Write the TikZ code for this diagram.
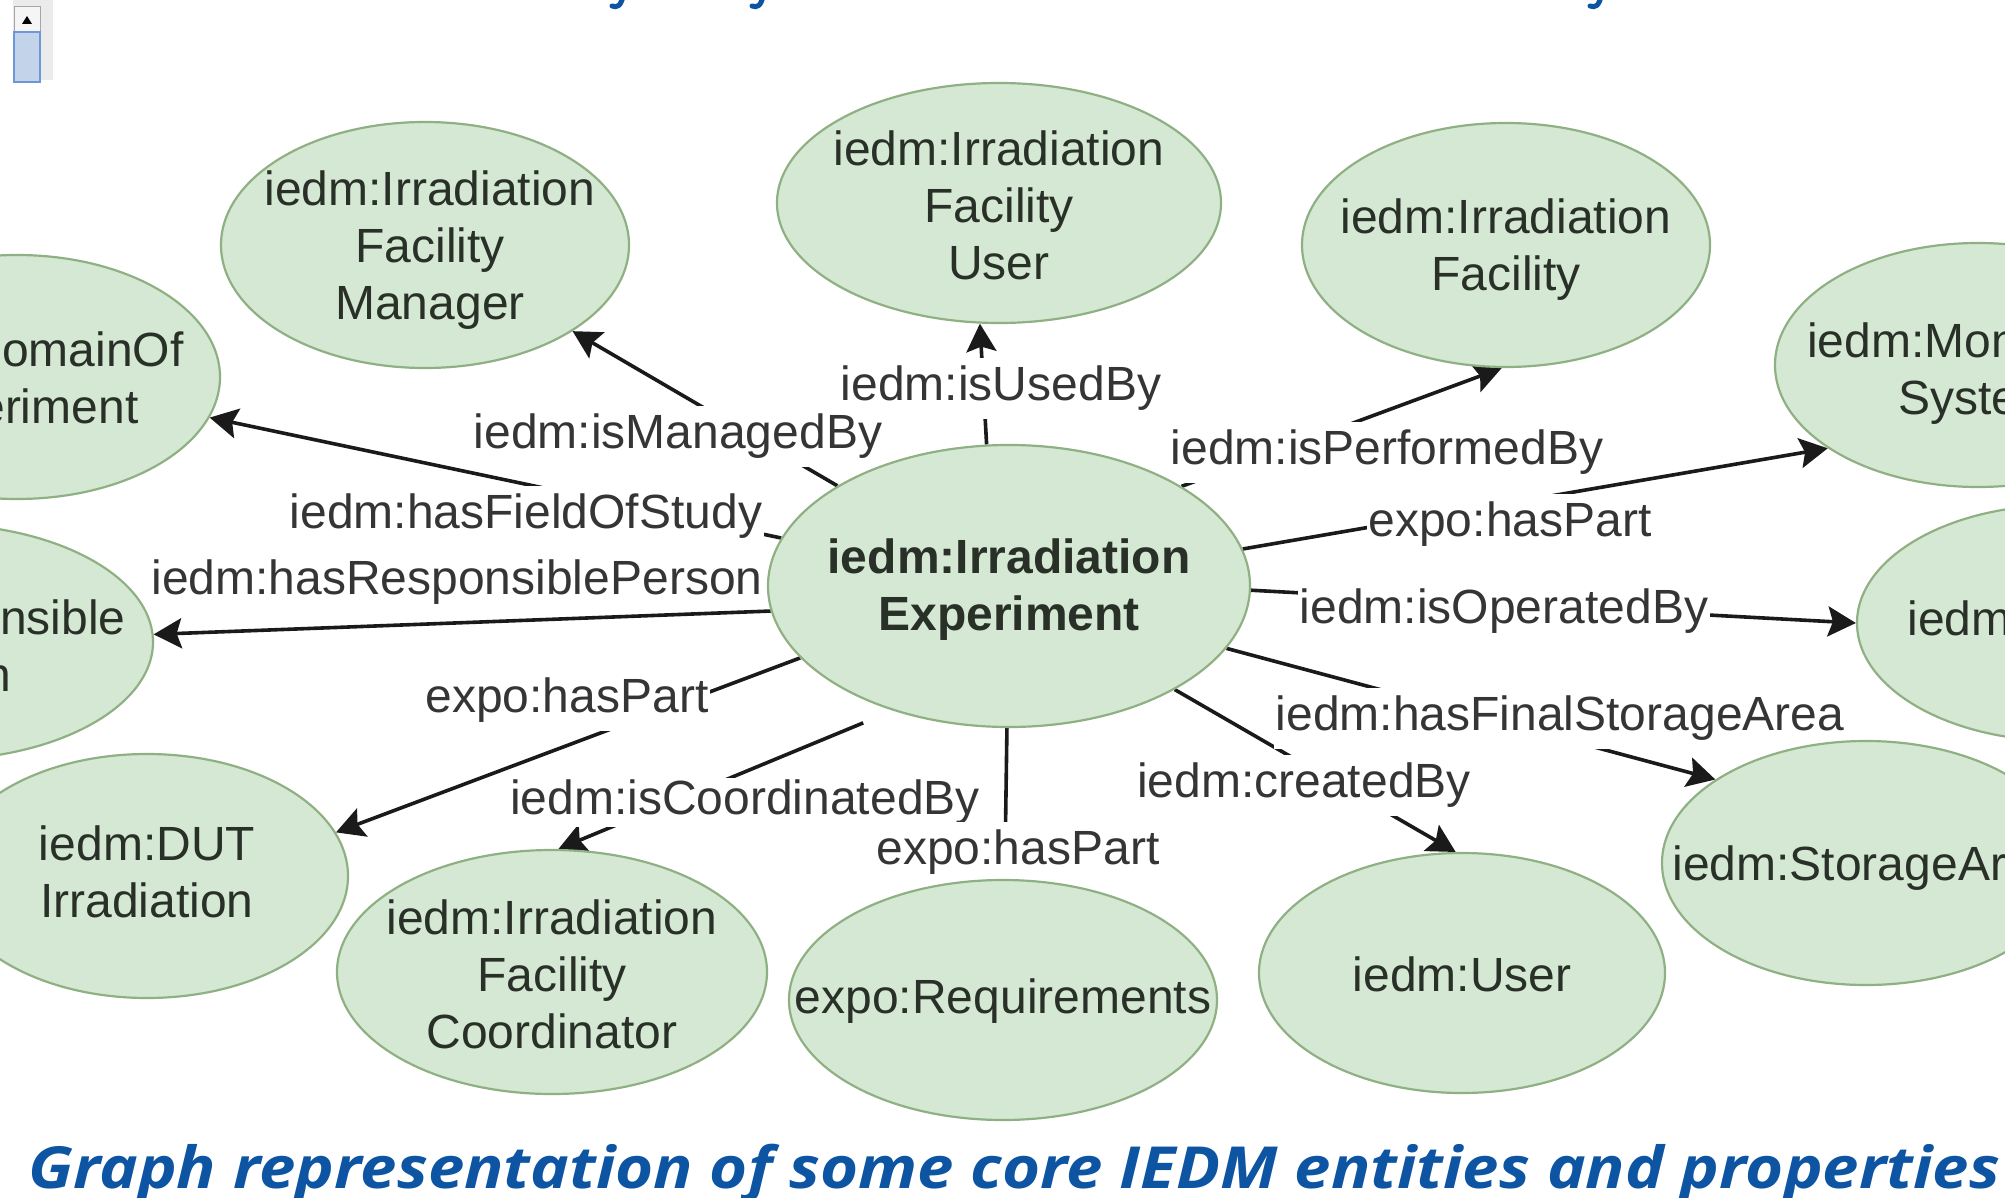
\documentclass[tikz,border=0pt]{standalone}
\usepackage{fontspec}
\setmainfont{Liberation Sans}
\newfontfamily\capfont{Open Sans}
\usetikzlibrary{arrows.meta,shapes.geometric}
\definecolor{nodefill}{HTML}{D5E8D4}
\definecolor{nodeedge}{HTML}{8FB083}
\definecolor{edgecol}{HTML}{1A1A1A}
\definecolor{lblcol}{HTML}{353535}
\definecolor{nodetxt}{HTML}{283028}
\definecolor{capblue}{HTML}{0D55A3}
\definecolor{thumbfill}{HTML}{C3D4EA}
\definecolor{thumbedge}{HTML}{6E97D8}
\pgfdeclarelayer{bglayer}
\pgfdeclarelayer{edgelayer}
\pgfdeclarelayer{lbllayer}
\pgfsetlayers{bglayer,edgelayer,lbllayer,main}
\begin{document}
\begin{tikzpicture}[x=1pt,y=-1pt,
  ent/.style={ellipse, draw=nodeedge, line width=2.2pt, fill=nodefill, inner sep=0pt},
  nt/.style={text=nodetxt, align=center, inner sep=0pt, font=\fontsize{48}{57}\selectfont},
  lbl/.style={fill=white, text=lblcol, inner xsep=2pt, inner ysep=8pt,
              text height=35pt, text depth=10pt, font=\fontsize{48}{57}\selectfont},
  conn/.style={draw=edgecol, line width=3.6pt},
  arr/.style={conn, -{Stealth[length=28pt,width=30pt,inset=5pt]}}
]
\useasboundingbox (0,0) rectangle (2005,1198);

\begin{pgfonlayer}{bglayer}
\fill[white] (0,0) rectangle (2005,1198);
% scrollbar fragment
\fill[black!8] (13,0) rectangle (53,80);
\draw[fill=black!4, draw=black!35, line width=1pt] (14,7) rectangle (40,32);
\fill[black] (27,16) -- (32,24) -- (22,24) -- cycle;
\draw[fill=thumbfill, draw=thumbedge, line width=1.2pt] (14,32) rectangle (40,82);
% descenders of the cut-off title
\foreach \xx in {614,754,1592}{
  \draw[capblue, line width=5pt, line cap=round] (\xx+9,-4) .. controls (\xx+7,6) and (\xx+3,8) .. (\xx-2,6);
}
\end{pgfonlayer}

% entities
\node[ent, minimum width=482pt, minimum height=282pt] (C) at (1009,586) {};
\node[ent, minimum width=408pt, minimum height=246pt] (M) at (425,245) {};
\node[ent, minimum width=444pt, minimum height=240pt] (U) at (999,203) {};
\node[ent, minimum width=408pt, minimum height=244pt] (F) at (1506,245) {};
\node[ent, minimum width=406pt, minimum height=244pt] (N) at (1978,365) {};
\node[ent, minimum width=408pt, minimum height=236pt] (O) at (2061,623) {};
\node[ent, minimum width=408pt, minimum height=244pt] (S) at (1866,863) {};
\node[ent, minimum width=406pt, minimum height=240pt] (Us) at (1462,973) {};
\node[ent, minimum width=428pt, minimum height=240pt] (Q) at (1003,1000) {};
\node[ent, minimum width=430pt, minimum height=244pt] (K) at (552,972) {};
\node[ent, minimum width=402pt, minimum height=244pt] (T) at (147,876) {};
\node[ent, minimum width=436pt, minimum height=236pt] (R) at (-65,642) {};
\node[ent, minimum width=406pt, minimum height=244pt] (D) at (17,377) {};

% connectors
\begin{pgfonlayer}{edgelayer}
\draw[arr] (C.99) -- (U.261);
\draw[arr] (C) -- (M);
\draw[arr] (C) -- (D);
\draw[arr] (C.186) -- (R.2);
\draw[arr] (C.199) -- (T.13);
\draw[arr, shorten <=32pt] (C.227) -- (K.87);
\draw[conn] (C) -- (Q);
\draw[arr] (C.328) -- (Us.93);
\draw[arr] (C.344) -- (S.151);
\draw[arr] (C.359) -- (O.180);
\draw[arr] (C.9) -- (N.209);
\draw[arr] (C.30) -- (F.268);
\end{pgfonlayer}

% connector labels
\begin{pgfonlayer}{lbllayer}
\node[lbl] (l1) at (1001,388) {iedm:isUsedBy};
\node[lbl] (l2) at (678,436) {iedm:isManagedBy};
\node[lbl] (l3) at (526,516) {iedm:hasFieldOfStudy};
\node[lbl, fill=none] (l4) at (457,582) {iedm:hasResponsiblePerson};
\node[lbl] (l5) at (567,700) {expo:hasPart};
\node[lbl, inner ysep=2pt] (l6) at (745,802) {iedm:isCoordinatedBy};
\node[lbl] (l7) at (1018,852) {expo:hasPart};
\node[lbl] (l8) at (1304,785) {iedm:createdBy};
\node[lbl] (l9) at (1560,718) {iedm:hasFinalStorageArea};
\node[lbl] (l10) at (1504,611) {iedm:isOperatedBy};
\node[lbl] (l11) at (1510,524) {expo:hasPart};
\node[lbl] (l12) at (1387,452) {iedm:isPerformedBy};
\end{pgfonlayer}

% entity texts
\node[nt, font=\bfseries\fontsize{48}{57}\selectfont] (Ct) at (1009,590) {iedm:Irradiation\\Experiment};
\node[nt] (Mt) at (430,250) {iedm:Irradiation\\Facility\\Manager};
\node[nt] (Ut) at (999,205) {iedm:Irradiation\\Facility\\User};
\node[nt] (Ft) at (1506,250) {iedm:Irradiation\\Facility};
\node[nt] (Nt) at (1978,374) {iedm:Monitoring\\System};
\node[nt] (Ot) at (2061,623) {iedm:Operator};
\node[nt] (St) at (1866,868) {iedm:StorageArea};
\node[nt] (Ust) at (1462,974) {iedm:User};
\node[nt] (Qt) at (1003,1001) {expo:Requirements};
\node[nt] (Kt) at (552,974) {iedm:Irradiation\\Facility\\Coordinator};
\node[nt] (Tt) at (147,872) {iedm:DUT\\Irradiation};
\node[nt] (Rt) at (-65,646) {iedm:Responsible\\Person};
\node[nt] (Dt) at (17,383) {iedm:DomainOf\\Experiment};

% caption
\node[anchor=base west, inner sep=0pt, text=capblue] (cap) at (28,1188)
  {\resizebox{1972pt}{\height}{\capfont\bfseries\itshape\fontsize{58}{60}\selectfont Graph representation of some core IEDM entities and properties}};
\end{tikzpicture}
\end{document}
